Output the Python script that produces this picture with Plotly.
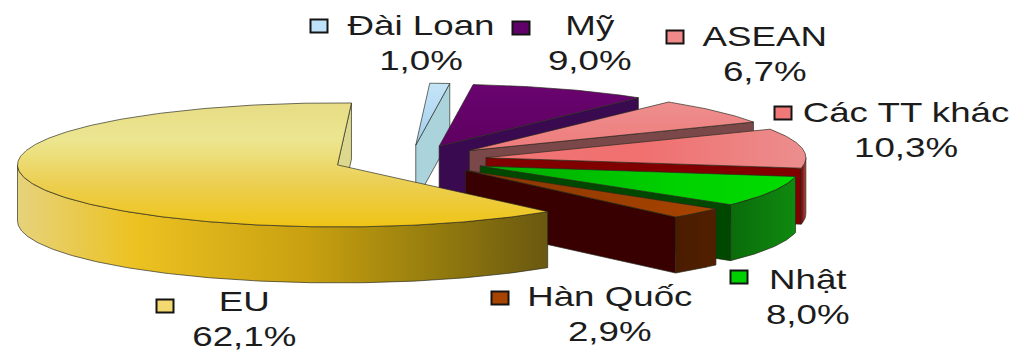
import math
import plotly.graph_objects as go

# Export share by market, percent
markets = ["Đài Loan", "Mỹ", "ASEAN", "Các TT khác", "Nhật", "Hàn Quốc", "EU"]
shares = [1.0, 9.0, 6.7, 10.3, 8.0, 2.9, 62.1]

# Pie projection on a pixel-sized plot area
CENTER_X, CENTER_Y = 410.0, 160.0
RADIUS_X, RADIUS_Y = 320.0, 62.0
DEPTH = 56.0
PULL = 0.24
FIRST_ANGLE = 2.5

# Per-market styling: top face, cut wall, rim wall
# Vertical gradients run bottom to top on screen because the y axis is reversed
top_fills = [
    dict(type="vertical", colorscale=[[0, "#a4d0ec"], [1, "#c4e4f8"]]),
    dict(type="vertical", colorscale=[[0, "#5e0060"], [1, "#6a0470"]]),
    dict(type="vertical", colorscale=[[0, "#ee7c7c"], [1, "#ee8e8e"]]),
    dict(type="horizontal", colorscale=[[0, "#f27474"], [0.5, "#f07070"], [1, "#ec8e8e"]]),
    dict(type="horizontal", colorscale=[[0, "#00a800"], [0.6, "#00d000"], [1, "#00dc00"]]),
    dict(type="horizontal", colorscale=[[0, "#8a3600"], [1, "#a84400"]]),
    dict(type="vertical", colorscale=[[0, "#efc416"], [0.35, "#eccf52"], [0.7, "#ece690"], [1, "#e8dc86"]]),
]
cut_colors = ["#abd3dc", "#3a0a50", "#7a4848", "#800000", "#004800", "#380000", "#dcd88e"]
rim_fills = [
    None, None, None,
    dict(type="horizontal", colorscale=[[0, "#7a0000"], [1, "#a85050"]]),
    dict(type="horizontal", colorscale=[[0, "#0a6c0a"], [1, "#0f8a0f"]]),
    dict(type="horizontal", colorscale=[[0, "#4a1c00"], [1, "#521f00"]]),
    dict(type="horizontal", colorscale=[[0, "#e6d27c"], [0.22, "#ecc222"], [0.55, "#c8a010"], [0.8, "#927a0e"], [1, "#6a5810"]]),
]
key_fills = ["#bfe2fa", "#62006a", "#f08a8a", "#f07878", "#00d000", "#a84400", "#f4d870"]
EDGE = "rgba(40,40,30,0.75)"

# Label block centres and legend key centres, in plot pixels
label_centers = [(421, 43), (590, 43), (765, 54), (906, 130), (808, 297), (610, 314), (244, 319)]
key_centers = [(319, 26), (521, 28), (675, 37), (783, 113), (739, 277), (500, 298), (165, 306)]
KEY_W, KEY_H = 17, 13


def rim_point(apex, angle):
    r = math.radians(angle)
    return apex[0] + RADIUS_X * math.sin(r), apex[1] - RADIUS_Y * math.cos(r)


def arc(apex, a0, a1, drop=0.0):
    steps = max(2, int(abs(a1 - a0) * 1.5))
    pts = [rim_point(apex, a0 + (a1 - a0) * i / steps) for i in range(steps + 1)]
    return [(x, y + drop) for x, y in pts]


def polygon(fig, pts, fill=None, color=None, width=0.9):
    xs = [p[0] for p in pts] + [pts[0][0]]
    ys = [p[1] for p in pts] + [pts[0][1]]
    style = dict(fillgradient=fill) if fill else dict(fillcolor=color)
    fig.add_trace(go.Scatter(
        x=xs, y=ys, mode="lines", fill="toself", hoverinfo="skip",
        line=dict(color=EDGE, width=width), showlegend=False, **style,
    ))


fig = go.Figure()

angle = FIRST_ANGLE
for i, share in enumerate(shares):
    start, end = angle, angle + share * 3.6
    angle = end
    mid = math.radians((start + end) / 2)
    apex = (CENTER_X + PULL * RADIUS_X * math.sin(mid),
            CENTER_Y - PULL * RADIUS_Y * math.cos(mid))

    # Cut wall on the clockwise side, seen when it faces the viewer
    if 0 < end % 360 < 180:
        out = rim_point(apex, end)
        polygon(fig, [apex, out, (out[0], out[1] + DEPTH), (apex[0], apex[1] + DEPTH)],
                color=cut_colors[i])

    # Rim wall: only the front half of the ellipse is visible
    lo, hi = max(start, 90), min(end, 270)
    if lo < hi:
        polygon(fig, arc(apex, lo, hi) + arc(apex, hi, lo, DEPTH), fill=rim_fills[i])

    # Top face
    polygon(fig, [apex] + arc(apex, start, end), fill=top_fills[i])

# Labels and their legend keys
for name, share, (lx, ly), (kx, ky), key in zip(markets, shares, label_centers, key_centers, key_fills):
    value = f"{share:.1f}".replace(".", ",") + "%"
    fig.add_annotation(
        x=lx, y=ly, text=f"{name}<br>{value}", showarrow=False,
        xanchor="center", yanchor="middle", align="center",
        font=dict(family="Liberation Sans, Arial, sans-serif", size=27, color="#1c1c1c"),
    )
    fig.add_shape(
        type="rect", x0=kx - KEY_W / 2, x1=kx + KEY_W / 2, y0=ky - KEY_H / 2, y1=ky + KEY_H / 2,
        fillcolor=key, line=dict(color="#141414", width=2),
    )

fig.update_layout(
    width=1025, height=353, margin=dict(l=0, r=0, t=0, b=0),
    paper_bgcolor="white", plot_bgcolor="white", showlegend=False,
    xaxis=dict(range=[0, 1025], visible=False, fixedrange=True),
    yaxis=dict(range=[353, 0], visible=False, fixedrange=True),
)

# The labels are set in a wide letterform: stretch each text block about its centre
widen = """
document.querySelectorAll('text.annotation-text').forEach(function (t) {
  var b = t.getBBox(), c = b.x + b.width / 2;
  t.setAttribute('transform', 'translate(' + c + ',0) scale(1.36,1) translate(' + (-c) + ',0)');
});
"""
fig.write_html("out.html", post_script=widen, config=dict(displayModeBar=False))
